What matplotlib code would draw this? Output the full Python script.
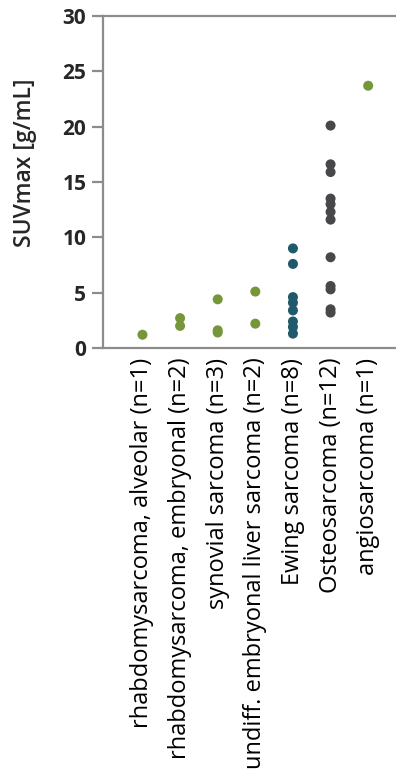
import matplotlib
matplotlib.use("Agg")
import matplotlib.pyplot as plt

plt.rcParams['font.family'] = ['Open Sans', 'DejaVu Sans']

categories = [
    "rhabdomysarcoma, alveolar (n=1)",
    "rhabdomysarcoma, embryonal (n=2)",
    "synovial sarcoma (n=3)",
    "undiff. embryonal liver sarcoma (n=2)",
    "Ewing sarcoma (n=8)",
    "Osteosarcoma (n=12)",
    "angiosarcoma (n=1)",
]

suv_rms_alveolar = [1.2]
suv_rms_embryonal = [2.7, 2.0]
suv_synovial = [4.4, 1.6, 1.4]
suv_liver = [5.1, 2.2]
suv_ewing = [9.0, 7.6, 4.6, 4.1, 3.4, 2.4, 1.9, 1.3]
suv_osteo = [20.1, 16.6, 15.9, 13.5, 13.0, 12.3, 11.6, 8.2, 5.6, 5.3, 3.5, 3.2]
suv_angio = [23.7]

groups = [suv_rms_alveolar, suv_rms_embryonal, suv_synovial, suv_liver,
          suv_ewing, suv_osteo, suv_angio]

GREEN = "#76963a"
TEAL = "#1e5a6b"
GRAY = "#48484b"
colors = [GREEN, GREEN, GREEN, GREEN, TEAL, GRAY, GREEN]

yticks = [0, 5, 10, 15, 20, 25, 30]

fig = plt.figure(figsize=(3.96, 7.81), dpi=100)
ax = fig.add_axes([0.26, 0.5544, 0.76, 0.4251])

for i, (vals, c) in enumerate(zip(groups, colors)):
    ax.scatter([i] * len(vals), vals, s=52, color=c, edgecolors='none', zorder=3)

ax.set_ylim(0, 30)
ax.set_xlim(-1.05, 6.95)
ax.set_yticks(yticks)
ax.set_yticklabels([str(t) for t in yticks], fontsize=15, fontweight='bold',
                   color="#262626")
ax.set_xticks(range(len(categories)))
ax.set_xticklabels(categories, rotation=90, fontsize=17, color="#000000",
                   va='top', ha='center')
ax.set_ylabel("SUVmax [g/mL]", fontsize=16.5, fontweight='semibold',
              color="#262626")
ax.yaxis.set_label_coords(-0.218, 0.557)

spine_col = "#8c8c8c"
for side in ['left', 'bottom', 'top']:
    ax.spines[side].set_color(spine_col)
    ax.spines[side].set_linewidth(1.6)
ax.spines['right'].set_visible(False)
ax.tick_params(axis='y', length=8, width=1.6, color=spine_col, pad=4)
ax.tick_params(axis='x', length=0, pad=7)

fig.savefig("out.png", dpi=100)
